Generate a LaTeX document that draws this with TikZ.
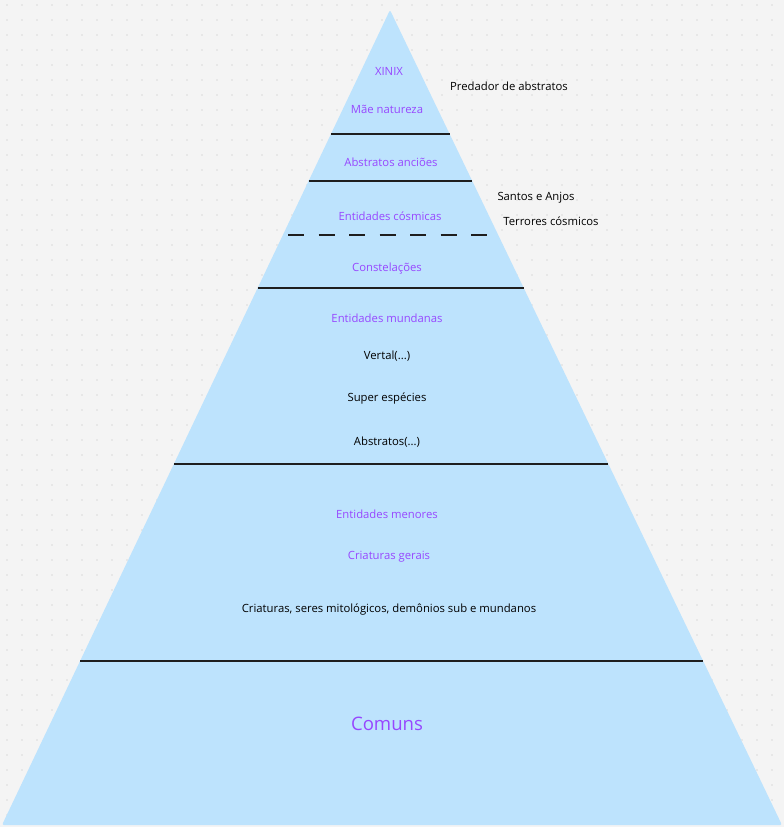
\documentclass[tikz,border=0pt]{standalone}
\usepackage{fontspec}
\setmainfont{Open Sans}
\usetikzlibrary{calc}
\definecolor{bgGray}{HTML}{F4F4F4}
\definecolor{dotGray}{HTML}{BDBDBD}
\definecolor{pyrBlue}{HTML}{BDE3FD}
\definecolor{lvlPurple}{HTML}{9747FF}
\definecolor{inkDark}{HTML}{1E1E1E}
\begin{document}
\begin{tikzpicture}[
x=1pt,y=-1pt,
level/.style={font=\fontsize{11.3}{13}\selectfont,text=lvlPurple,inner sep=1pt,yshift=-1pt},
member/.style={font=\fontsize{11.3}{13}\selectfont,text=black,inner sep=1pt,yshift=-1pt},
bigLevel/.style={font=\fontsize{18.6}{22}\selectfont,text=lvlPurple,inner sep=1pt,yshift=-1pt},
divider/.style={draw=inkDark,line width=1.8pt},
softDivider/.style={divider,dash pattern=on 16pt off 14.5pt}]

\useasboundingbox (0,0) rectangle (784,827);
\fill[bgGray] (0,0) rectangle (784,827);
\foreach \i in {0,...,51}{
\foreach \j in {0,...,54}{
\fill[dotGray] (7+15*\i,5+15*\j) circle (0.7pt);
}}

\coordinate (apex) at (390,10);
\coordinate (bl) at (2,825);
\coordinate (br) at (782,825);
\fill[pyrBlue,rounded corners=2pt] (apex) -- (br) -- (bl) -- cycle;

\draw[divider] ($(apex)!0.1521!(bl)$) -- ($(apex)!0.1521!(br)$);
\draw[divider] ($(apex)!0.2098!(bl)$) -- ($(apex)!0.2098!(br)$);
\draw[softDivider] (288,235) -- (487,235);
\draw[divider] ($(apex)!0.3411!(bl)$) -- ($(apex)!0.3411!(br)$);
\draw[divider] ($(apex)!0.5571!(bl)$) -- ($(apex)!0.5571!(br)$);
\draw[divider] ($(apex)!0.7988!(bl)$) -- ($(apex)!0.7988!(br)$);

\node[level] (xinix) at (389,70) {XINIX};
\node[level] (mae) at (387,108) {Mãe natureza};
\node[level] (anciaos) at (391,161) {Abstratos anciões};
\node[level] (cosmicas) at (390,215) {Entidades cósmicas};
\node[level] (constel) at (387,268) {Constelações};
\node[level] (mundanas) at (387,317) {Entidades mundanas};
\node[member] (vertal) at (387,355) {Vertal(...)};
\node[member] (superesp) at (387,398) {Super espécies};
\node[member] (abstr) at (387,441) {Abstratos(...)};
\node[level] (menores) at (387,513) {Entidades menores};
\node[level] (gerais) at (389,556) {Criaturas gerais};
\node[member] (criaturas) at (389,609) {Criaturas, seres mitológicos, demônios sub e mundanos};
\node[bigLevel] (comuns) at (387,723) {Comuns};

\node[member] (predador) at (509,85) {Predador de abstratos};
\node[member] (santos) at (536,197) {Santos e Anjos};
\node[member] (terrores) at (551,220) {Terrores cósmicos};

\end{tikzpicture}
\end{document}
